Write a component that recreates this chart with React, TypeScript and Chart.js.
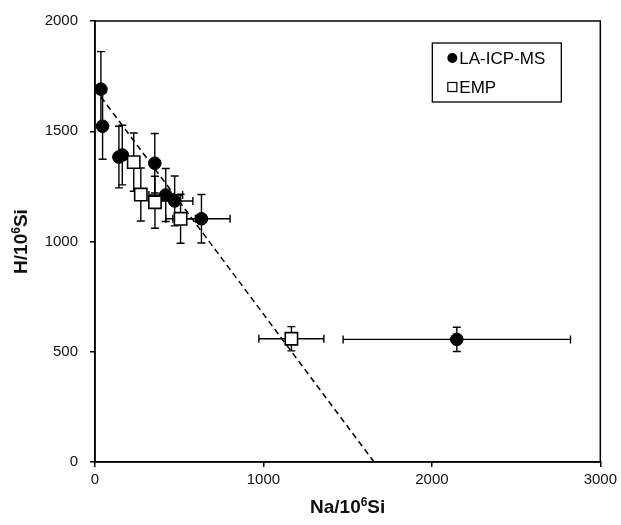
import React, { useEffect, useRef } from "react";
import { Chart, registerables } from "chart.js";

Chart.register(...registerables);

// LA-ICP-MS (filled circles)
const laX = [35, 45, 142, 162, 355, 420, 473, 632, 2148];
const laY = [1691, 1523, 1383, 1392, 1355, 1211, 1184, 1103, 556];
const laXErr = [0, 0, 0, 0, 0, 100, 108, 170, 675];
const laYErr = [170, 150, 140, 135, 135, 120, 113, 110, 55];

// EMP (open squares)
const emX = [230, 272, 356, 508, 1166];
const emY = [1360, 1213, 1178, 1103, 559];
const emXErr = [0, 0, 0, 88, 193];
const emYErr = [132, 120, 118, 111, 55];

// dashed trend line end points
const trendX = [0, 1657];
const trendY = [1692, 0];

const xTicks = [0, 1000, 2000, 3000];
const yTicks = [0, 500, 1000, 1500, 2000];

const seriesNames = ["LA-ICP-MS", "EMP"];
// axis titles: [base, superscript, tail]
const xTitleParts = ["Na/10", "6", "Si"];
const yTitleParts = ["H/10", "6", "Si"];

const FONT = "'Liberation Sans', Arial, Helvetica, sans-serif";

function drawSupTitle(ctx: any, parts: string[], cx: number, cy: number) {
  const big = `bold 19px ${FONT}`;
  const small = `bold 12px ${FONT}`;
  ctx.font = big;
  const w0 = ctx.measureText(parts[0]).width;
  const w2 = ctx.measureText(parts[2]).width;
  ctx.font = small;
  const w1 = ctx.measureText(parts[1]).width;
  const total = w0 + w1 + w2;
  let x = cx - total / 2;
  ctx.textAlign = "left";
  ctx.textBaseline = "alphabetic";
  const base = cy + 7;
  ctx.font = big;
  ctx.fillText(parts[0], x, base);
  x += w0;
  ctx.font = small;
  ctx.fillText(parts[1], x, base - 7);
  x += w1;
  ctx.font = big;
  ctx.fillText(parts[2], x, base);
}

const errorBarPlugin = {
  id: "errorBars",
  beforeDatasetsDraw(chart: any) {
    const { ctx } = chart;
    const xs = chart.scales.x;
    const ys = chart.scales.y;
    const cap = 4;
    ctx.save();
    ctx.strokeStyle = "#000";
    ctx.lineWidth = 1.4;
    chart.data.datasets.forEach((ds: any) => {
      if (!ds.xErr) return;
      ds.data.forEach((p: any, i: number) => {
        const px = xs.getPixelForValue(p.x);
        const py = ys.getPixelForValue(p.y);
        const ye = ds.yErr[i];
        const xe = ds.xErr[i];
        ctx.beginPath();
        if (ye) {
          const t = ys.getPixelForValue(p.y + ye);
          const b = ys.getPixelForValue(p.y - ye);
          ctx.moveTo(px, t);
          ctx.lineTo(px, b);
          ctx.moveTo(px - cap, t);
          ctx.lineTo(px + cap, t);
          ctx.moveTo(px - cap, b);
          ctx.lineTo(px + cap, b);
        }
        if (xe) {
          const l = xs.getPixelForValue(p.x - xe);
          const r = xs.getPixelForValue(p.x + xe);
          ctx.moveTo(l, py);
          ctx.lineTo(r, py);
          ctx.moveTo(l, py - cap);
          ctx.lineTo(l, py + cap);
          ctx.moveTo(r, py - cap);
          ctx.lineTo(r, py + cap);
        }
        ctx.stroke();
      });
    });
    ctx.restore();
  },
};

const framePlugin = {
  id: "frame",
  afterDraw(chart: any) {
    const { ctx, chartArea: a } = chart;
    ctx.save();
    ctx.strokeStyle = "#000";
    ctx.lineWidth = 1.5;
    ctx.strokeRect(a.left, a.top, a.right - a.left, a.bottom - a.top);
    // legend box
    const bw = 129;
    const bh = 59;
    const bx = a.right - 39 - bw;
    const by = a.top + 22;
    ctx.fillStyle = "#fff";
    ctx.fillRect(bx, by, bw, bh);
    ctx.lineWidth = 1.3;
    ctx.strokeRect(bx, by, bw, bh);
    ctx.font = `17px ${FONT}`;
    ctx.textBaseline = "middle";
    ctx.textAlign = "left";
    ctx.fillStyle = "#000";
    const mx = bx + 20;
    const y1 = by + 15;
    const y2 = by + 44;
    ctx.beginPath();
    ctx.arc(mx, y1, 5, 0, Math.PI * 2);
    ctx.fill();
    ctx.fillText(seriesNames[0], mx + 7, y1 + 1);
    ctx.lineWidth = 1.2;
    ctx.strokeRect(mx - 4.5, y2 - 4.5, 9, 9);
    ctx.fillText(seriesNames[1], mx + 7, y2 + 1);

    // axis titles with superscripts
    ctx.fillStyle = "#111";
    drawSupTitle(ctx, xTitleParts, (a.left + a.right) / 2, 506);
    ctx.save();
    ctx.translate(20, (a.top + a.bottom) / 2);
    ctx.rotate(-Math.PI / 2);
    drawSupTitle(ctx, yTitleParts, 0, 0);
    ctx.restore();
    ctx.restore();
  },
};

export default function App() {
  const ref = useRef<HTMLCanvasElement>(null);
  useEffect(() => {
    if (!ref.current) return;
    const chart = new Chart(ref.current, {
      type: "scatter",
      data: {
        datasets: [
          {
            type: "scatter",
            label: seriesNames[1],
            data: emX.map((x, i) => ({ x, y: emY[i] })),
            xErr: emXErr,
            yErr: emYErr,
            pointStyle: "rect",
            pointRadius: 8.7,
            pointBackgroundColor: "#fff",
            pointBorderColor: "#000",
            pointBorderWidth: 1.6,
            order: 1,
          } as any,
          {
            type: "scatter",
            label: seriesNames[0],
            data: laX.map((x, i) => ({ x, y: laY[i] })),
            xErr: laXErr,
            yErr: laYErr,
            pointStyle: "circle",
            pointRadius: 6.3,
            pointBackgroundColor: "#000",
            pointBorderColor: "#000",
            pointBorderWidth: 1,
            order: 2,
          } as any,
          {
            type: "line",
            label: "trend",
            data: trendX.map((x, i) => ({ x, y: trendY[i] })),
            borderColor: "#000",
            borderWidth: 1.5,
            borderDash: [6, 4],
            pointRadius: 0,
            fill: false,
            showLine: true,
            order: 3,
          } as any,
        ],
      },
      options: {
        animation: false,
        responsive: true,
        maintainAspectRatio: false,
        layout: { padding: { top: 17, right: 18, left: 0, bottom: 0 } },
        plugins: { legend: { display: false }, tooltip: { enabled: false } },
        scales: {
          x: {
            type: "linear",
            min: 0,
            max: 3000,
            afterBuildTicks: (s: any) => {
              s.ticks = xTicks.map((v) => ({ value: v }));
            },
            afterFit: (s: any) => {
              s.height = 63;
            },
            ticks: {
              color: "#111",
              font: { family: FONT, size: 15 },
              padding: 4,
              maxRotation: 0,
              callback: (v: any) => String(v),
            },
            grid: {
              drawOnChartArea: false,
              drawTicks: true,
              tickLength: 5,
              color: "#000",
              lineWidth: 1.5,
            },
            border: { display: true, color: "#000", width: 1.5 },
            title: { display: false },
          },
          y: {
            type: "linear",
            min: 0,
            max: 2000,
            afterBuildTicks: (s: any) => {
              s.ticks = yTicks.map((v) => ({ value: v }));
            },
            afterFit: (s: any) => {
              s.width = 95;
            },
            ticks: {
              color: "#111",
              font: { family: FONT, size: 15 },
              padding: 12,
              callback: (v: any) => String(v),
            },
            grid: {
              drawOnChartArea: false,
              drawTicks: true,
              tickLength: 5,
              color: "#000",
              lineWidth: 1.5,
            },
            border: { display: true, color: "#000", width: 1.5 },
            title: { display: false },
          },
        },
      } as any,
      plugins: [errorBarPlugin, framePlugin],
    });
    return () => chart.destroy();
  }, []);

  return (
    <div style={{ position: "absolute", left: 0, top: 0, width: 621, height: 525, background: "#fff" }}>
      <canvas ref={ref} />
    </div>
  );
}
